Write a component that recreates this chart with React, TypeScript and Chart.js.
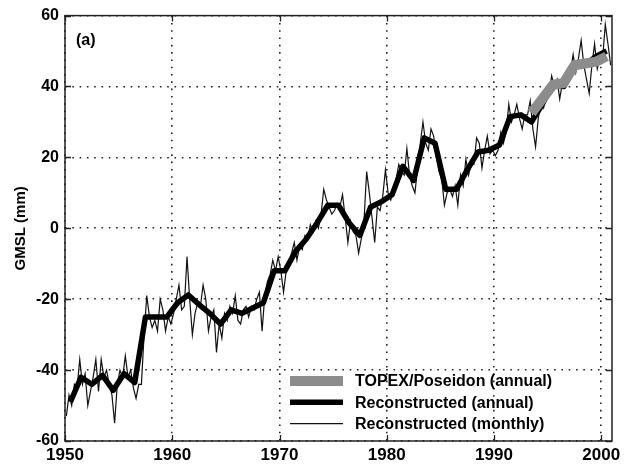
import React, { useEffect, useRef } from "react";
import { Chart, registerables } from "chart.js";

Chart.register(...registerables);

// ---------- data ----------
const annualYears = [
  1950, 1951, 1952, 1953, 1954, 1955, 1956, 1957, 1958, 1959,
  1960, 1961, 1962, 1963, 1964, 1965, 1966, 1967, 1968, 1969,
  1970, 1971, 1972, 1973, 1974, 1975, 1976, 1977, 1978, 1979,
  1980, 1981, 1982, 1983, 1984, 1985, 1986, 1987, 1988, 1989,
  1990, 1991, 1992, 1993, 1994, 1995, 1996, 1997, 1998, 1999, 2000,
];
const annualGMSL = [
  -49, -42, -44, -41.5, -45.7, -41, -43.5, -25, -25, -25,
  -21, -18.8, -21.5, -24, -27, -23, -24, -22.5, -21, -12,
  -12, -6.5, -3, 1.5, 6.5, 6.5, 1.5, -2, 6, 7.5,
  9.5, 17.5, 13.5, 25.5, 24, 11, 11, 16.5, 21.5, 22,
  23.5, 31.5, 32, 30, 35, 40.5, 40, 46.5, 46, 48.5, 50,
];

const topexYears = [1993, 1994, 1995, 1996, 1997, 1998, 1999, 2000];
const topexGMSL = [32.5, 36.5, 40.5, 41, 46, 46.5, 47, 48.5];

// reconstructed (monthly), sampled four times a year, 1950 .. 2000
const monthlyFirstYear = 1950;
const monthlyPerYear = 4;
const monthlyGMSL = [
  -53, -47, -50, -44,
  -45, -37, -44, -41,
  -50, -46, -42, -37,
  -46, -37, -42, -40,
  -44, -47, -55, -44,
  -40, -42, -36, -42,
  -40, -45, -48, -44,
  -44, -30, -19, -25,
  -28, -26, -29, -20,
  -23, -29, -25, -27,
  -24, -20, -16, -23,
  -22, -8, -20, -30,
  -24, -21, -22, -16,
  -20, -29, -25, -23,
  -35, -27, -31, -24,
  -26, -22, -24, -19,
  -26, -27, -23, -22,
  -25, -22, -23, -20,
  -18, -29, -19, -15,
  -13, -9, -12, -8,
  -12, -18, -12, -10,
  -7, -4, -9, -5,
  -6, -2, -3, 1,
  -1, 2, 0, 4,
  11, 8, 6, 4,
  5, 7, 6, 9.5,
  3, -4, 2, -1,
  -2, -7, -3, 2,
  16, 10, 3, -4,
  6, 5, 9, 16.5,
  10, 8, 11, 14,
  18, 16, 15, 22.5,
  15, 12, 10, 17,
  24, 30, 24, 22,
  28, 26, 20, 16,
  14, 6.5, 10, 11,
  9, 12, 6.5, 15,
  12, 19.5, 15, 18,
  18, 25.5, 24, 17,
  22, 26, 21, 22,
  20.5, 22, 27, 24,
  27, 35, 30, 32,
  35, 31, 28, 32,
  32, 36, 28, 23,
  31, 36, 34, 38,
  38, 43, 40, 42,
  36.5, 41, 40, 44,
  44, 49, 44, 48,
  53, 46, 42, 38,
  46, 52, 45, 48,
  48, 57.5, 52, 46,
];

const xTicks = [1950, 1960, 1970, 1980, 1990, 2000];
const yTicks = [-60, -40, -20, 0, 20, 40, 60];
const legendLabels = [
  "TOPEX/Poseidon (annual)",
  "Reconstructed (annual)",
  "Reconstructed (monthly)",
];
const panelLabel = "(a)";
const yTitle = "GMSL (mm)";

const FONT = "'Liberation Sans', Arial, Helvetica, sans-serif";

const framePlugin = {
  id: "frame",
  afterDatasetsDraw(chart: any) {
    const { ctx, chartArea } = chart;
    const { left, right, top, bottom } = chartArea;
    const xs = chart.scales.x;
    const ys = chart.scales.y;
    ctx.save();
    // inner tick marks
    ctx.strokeStyle = "#222";
    ctx.lineWidth = 1.3;
    ctx.beginPath();
    yTicks.forEach((v) => {
      const y = Math.round(ys.getPixelForValue(v)) + 0.5;
      ctx.moveTo(left, y);
      ctx.lineTo(left + 6, y);
      ctx.moveTo(right, y);
      ctx.lineTo(right - 6, y);
    });
    xTicks.forEach((v) => {
      const x = Math.round(xs.getPixelForValue(v)) + 0.5;
      ctx.moveTo(x, bottom);
      ctx.lineTo(x, bottom - 6);
      ctx.moveTo(x, top);
      ctx.lineTo(x, top + 6);
    });
    ctx.stroke();
    // frame
    ctx.lineWidth = 1.5;
    ctx.strokeStyle = "#222";
    ctx.strokeRect(left, top, right - left, bottom - top);
    // panel label
    ctx.fillStyle = "#000";
    ctx.font = `bold 16px ${FONT}`;
    ctx.textAlign = "left";
    ctx.textBaseline = "middle";
    ctx.fillText(panelLabel, left + 11, top + 25);
    // legend
    const ds = chart.data.datasets;
    const x1 = left + 225;
    const x2 = left + 278;
    const ys0 = bottom - 60;
    legendLabels.forEach((label, i) => {
      const d = ds[i];
      const y = ys0 + i * 21.3;
      ctx.beginPath();
      ctx.strokeStyle = d.borderColor;
      ctx.lineWidth = d.borderWidth;
      ctx.lineCap = "butt";
      ctx.moveTo(x1, y);
      ctx.lineTo(x2, y);
      ctx.stroke();
      ctx.fillStyle = "#000";
      ctx.font = `bold 16px ${FONT}`;
      ctx.textBaseline = "middle";
      ctx.fillText(label, x2 + 12, y + 1);
    });
    ctx.restore();
  },
};

export default function App() {
  const ref = useRef<HTMLCanvasElement | null>(null);

  useEffect(() => {
    document.body.style.margin = "0";
    const canvas = ref.current;
    if (!canvas) return;

    const annualPts = annualYears.map((yr, i) => ({ x: yr + 0.5, y: annualGMSL[i] }));
    const topexPts = topexYears.map((yr, i) => ({ x: yr + 0.5, y: topexGMSL[i] }));
    const monthlyPts = monthlyGMSL.map((v, i) => ({
      x: monthlyFirstYear + (i + 0.5) / monthlyPerYear,
      y: v,
    }));

    const gridCommon = {
      color: "#222",
      lineWidth: 1.6,
      drawTicks: false,
    };

    const chart = new Chart(canvas, {
      type: "line",
      data: {
        datasets: [
          {
            label: legendLabels[0],
            data: topexPts,
            borderColor: "#8c8c8c",
            borderWidth: 10,
            pointRadius: 0,
            tension: 0,
            borderJoinStyle: "round",
            borderCapStyle: "butt",
            order: 0,
          },
          {
            label: legendLabels[1],
            data: annualPts,
            borderColor: "#000",
            borderWidth: 5.5,
            pointRadius: 0,
            tension: 0,
            borderJoinStyle: "round",
            order: 1,
          },
          {
            label: legendLabels[2],
            data: monthlyPts,
            borderColor: "#111",
            borderWidth: 1.2,
            pointRadius: 0,
            tension: 0,
            order: 2,
          },
        ],
      },
      options: {
        responsive: false,
        animation: false,
        layout: { padding: { top: 10, right: 17, left: 0, bottom: 0 } },
        plugins: {
          legend: { display: false },
          tooltip: { enabled: false },
        },
        scales: {
          x: {
            type: "linear",
            min: 1950,
            max: 2001,
            afterBuildTicks: (s: any) => {
              s.ticks = xTicks.map((v) => ({ value: v }));
            },
            afterFit: (s: any) => {
              s.height = 24;
            },
            ticks: {
              color: "#000",
              padding: 4,
              font: { family: FONT, size: 17, weight: "bold" },
              callback: (v: any) => String(v),
              maxRotation: 0,
              autoSkip: false,
            },
            grid: { ...gridCommon },
            border: { display: false, dash: [1.6, 5.7] },
          },
          y: {
            type: "linear",
            min: -60,
            max: 60,
            afterBuildTicks: (s: any) => {
              s.ticks = yTicks.map((v) => ({ value: v }));
            },
            afterFit: (s: any) => {
              s.width = 65;
            },
            ticks: {
              color: "#000",
              padding: 6,
              font: { family: FONT, size: 16, weight: "bold" },
              callback: (v: any) => String(v),
            },
            grid: { ...gridCommon },
            border: { display: false, dash: [1.6, 5.7] },
            title: {
              display: true,
              text: yTitle,
              color: "#000",
              font: { family: FONT, size: 15, weight: "bold" },
              padding: { top: 12, bottom: 0 },
            },
          },
        },
      },
      plugins: [framePlugin],
    });

    return () => chart.destroy();
  }, []);

  return <canvas ref={ref} width={629} height={465} style={{ display: "block", width: 629, height: 465 }} />;
}
